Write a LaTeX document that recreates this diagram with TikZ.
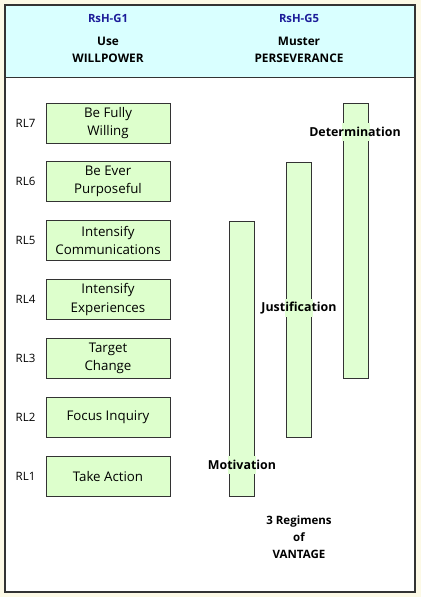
\documentclass[tikz,border=0pt]{standalone}
\usepackage{fontspec}
\setmainfont{Open Sans}
\definecolor{cream}{HTML}{FCF9E6}
\definecolor{headfill}{HTML}{D9FFFF}
\definecolor{boxfill}{HTML}{DDFFCC}
\definecolor{barfill}{HTML}{E0FFD2}
\definecolor{edge}{HTML}{333333}
\definecolor{headblue}{HTML}{1C1C99}
\begin{document}
\begin{tikzpicture}[x=1pt,y=-1pt,
  lbox/.style={draw=edge,line width=1pt,fill=boxfill,minimum width=124pt,minimum height=40pt,inner sep=0pt,align=center,font=\fontsize{13.3}{18.5}\selectfont},
  rl/.style={anchor=west,inner sep=0pt,font=\fontsize{11.5}{13}\selectfont},
  vbar/.style={draw=edge,line width=1pt,fill=barfill,minimum width=25pt,minimum height=275pt,inner sep=0pt},
  blabel/.style={inner sep=0pt,minimum height=18pt,font=\bfseries\fontsize{12.4}{14}\selectfont},
  head/.style={align=center,inner sep=0pt,font=\bfseries\fontsize{11.8}{17}\selectfont},
  code/.style={inner sep=0pt,text=headblue,font=\bfseries\fontsize{11.3}{13}\selectfont}]
\useasboundingbox (0,0) rectangle (421,597);
\fill[cream] (0,0) rectangle (421,597);
\fill[white] (5,5) rectangle (415,592);
\fill[headfill] (5,5) rectangle (415,77);
\draw[edge,line width=1pt] (5,77) -- (415,77);
\draw[edge,line width=2pt] (5,5) rectangle (415,592);
% header
\node[code] (g1) at (108,18) {RsH-G1};
\node[code] (g5) at (299,18) {RsH-G5};
\node[head] (h1) at (108,49.5) {Use\\WILLPOWER};
\node[head] (h5) at (299,49.5) {Muster\\PERSEVERANCE};
% left boxes
\node[lbox] (b7) at (108,123) {Be Fully\\Willing};
\node[lbox] (b6) at (108,181.5) {Be Ever\\Purposeful};
\node[lbox] (b5) at (108,240.5) {Intensify\\Communications};
\node[lbox] (b4) at (108,299.5) {Intensify\\Experiences};
\node[lbox] (b3) at (108,358.5) {Target\\Change};
\node[lbox] (b2) at (108,417.5) {Focus Inquiry};
\node[lbox] (b1) at (108,476.5) {Take Action};
\foreach \i/\y in {7/123,6/181.5,5/240.5,4/299.5,3/358.5,2/417.5,1/476.5}
  \node[rl] (rl\i) at (15.5,\y) {RL\i};
% bars
\node[vbar] (bar1) at (241.5,358.5) {};
\node[vbar] (bar2) at (298.5,299.5) {};
\node[vbar] (bar3) at (355.5,240.5) {};
% labels
\node[blabel] (det) at (355,132) {\phantom{Determination}};
\fill[barfill] ([xshift=-1pt]bar3.west |- det.north) rectangle ([xshift=1pt]bar3.east |- det.south);
\node[blabel] at (det) {Determination};
\node[blabel] (jus) at (299,308) {\phantom{Justification}};
\fill[barfill] ([xshift=-1pt]bar2.west |- jus.north) rectangle ([xshift=1pt]bar2.east |- jus.south);
\node[blabel] at (jus) {Justification};
\node[blabel] (mot) at (242,465) {\phantom{Motivation}};
\fill[barfill] ([xshift=-1pt]bar1.west |- mot.north) rectangle ([xshift=1pt]bar1.east |- mot.south);
\node[blabel] at (mot) {Motivation};
% footer
\node[head,font=\bfseries\fontsize{11.5}{17}\selectfont] (vant) at (299,537) {3 Regimens\\of\\VANTAGE};
\end{tikzpicture}
\end{document}
